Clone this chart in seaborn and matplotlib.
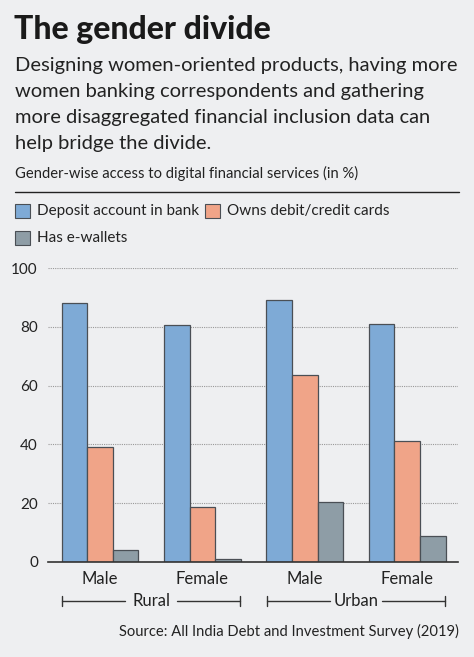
import matplotlib
matplotlib.use("Agg")
import matplotlib.pyplot as plt
import seaborn as sns
import pandas as pd

groups = ["Rural Male", "Rural Female", "Urban Male", "Urban Female"]
tick_labels = ["Male", "Female", "Male", "Female"]
series = ["Deposit account in bank", "Owns debit/credit cards", "Has e-wallets"]
deposit = [88.3, 80.7, 89.1, 81.1]
cards = [39.1, 18.7, 63.6, 41.1]
ewallets = [4.1, 0.8, 20.3, 8.8]
colors = ["#7eaad6", "#f0a488", "#8e9da6"]

rows = []
for name, vals in zip(series, [deposit, cards, ewallets]):
    for g, v in zip(groups, vals):
        rows.append({"group": g, "series": name, "value": v})
df = pd.DataFrame(rows)

sns.set_theme(style="white")
plt.rcParams['font.family'] = ['Lato', 'DejaVu Sans']
BG = "#eeeff1"
TXT = "#222222"
fig = plt.figure(figsize=(4.74, 6.57), dpi=100, facecolor=BG)
ax = fig.add_axes([48.3/474, 1-561.7/657, (458.3-48.3)/474, (561.7-268.3)/657])
ax.set_facecolor(BG)

sns.barplot(data=df, x="group", y="value", hue="series", order=groups,
            hue_order=series, palette=colors, width=0.75, ax=ax,
            edgecolor="#4a4f55", linewidth=0.9, legend=False, saturation=1)

ax.set_xlim(-0.505, 3.5)
ax.set_ylim(0, 100)
ax.set_yticks([0, 20, 40, 60, 80, 100])
ax.set_yticklabels(["0", "20", "40", "60", "80", "100"], fontsize=11, color=TXT)
ax.set_xticks(range(4))
ax.set_xticklabels(tick_labels, fontsize=12, color=TXT)
ax.tick_params(axis="y", length=0, pad=7.5)
ax.tick_params(axis="x", length=0, pad=7)
ax.set_xlabel("")
ax.set_ylabel("")
for s in ["left", "right", "top"]:
    ax.spines[s].set_visible(False)
ax.spines["bottom"].set_color("#333333")
ax.spines["bottom"].set_linewidth(1.2)
ax.yaxis.grid(True, linestyle=(0, (1, 1)), color="#999999", linewidth=0.8)
ax.set_axisbelow(True)

# Titles
fig.text(14/474, 1-30/657, "The gender divide", fontsize=23, fontweight="black",
         family=["Lato", "DejaVu Sans"], color="#1a1a1a", va="center", ha="left")
sub_lines = ["Designing women-oriented products, having more",
             "women banking correspondents and gathering",
             "more disaggregated financial inclusion data can",
             "help bridge the divide."]
for i, line in enumerate(sub_lines):
    fig.text(15/474, 1-(65 + 26*i)/657, line, fontsize=14.5, color=TXT,
             va="center", ha="left")
fig.text(15/474, 1-173/657, "Gender-wise access to digital financial services (in %)",
         fontsize=10.6, color=TXT, va="center", ha="left")
fig.add_artist(plt.Line2D([15/474, 459/474], [1-192/657, 1-192/657],
                          color=TXT, linewidth=1.0, transform=fig.transFigure))

# Legend
leg_items = [(15, 211, 0), (205, 211, 1), (15, 238, 2)]
for x0, yc, i in leg_items:
    fig.add_artist(plt.Rectangle((x0/474, 1-(yc+7)/657), 15/474, 14/657,
                                 facecolor=colors[i], edgecolor="#4a4f55", linewidth=0.8,
                                 transform=fig.transFigure))
    fig.text((x0+22)/474, 1-yc/657, series[i], fontsize=11, color=TXT,
             va="center", ha="left")

# Group brackets
def bracket(x1, x2, label, y=601):
    yy = 1-y/657
    xc = (x1+x2)/2
    tw = 26
    kw = dict(color="#333333", linewidth=1.0, transform=fig.transFigure)
    fig.add_artist(plt.Line2D([x1/474, (xc-tw)/474], [yy, yy], **kw))
    fig.add_artist(plt.Line2D([(xc+tw)/474, x2/474], [yy, yy], **kw))
    fig.add_artist(plt.Line2D([x1/474, x1/474], [yy-5/657, yy+5/657], **kw))
    fig.add_artist(plt.Line2D([x2/474, x2/474], [yy-5/657, yy+5/657], **kw))
    fig.text(xc/474, yy, label, fontsize=12, color=TXT, ha="center", va="center")

bracket(62, 240, "Rural")
bracket(267, 445, "Urban")

fig.text(459/474, 1-631/657, "Source: All India Debt and Investment Survey (2019)",
         fontsize=10.6, color=TXT, ha="right", va="center")

fig.savefig("out.png", dpi=100, facecolor=BG)
